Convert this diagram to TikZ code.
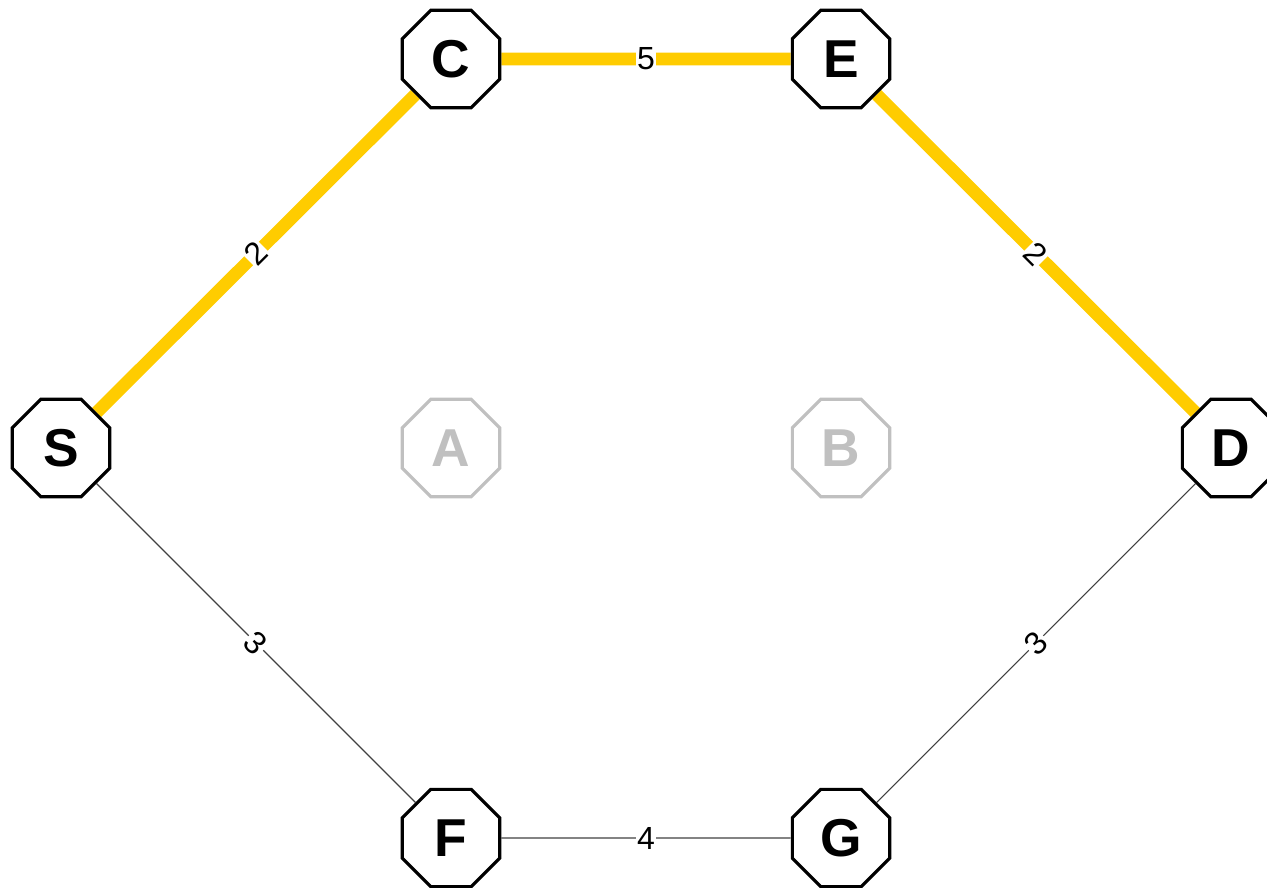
\documentclass[tikz,border=0pt]{standalone}
\usepackage{fontspec}
\setmainfont{Liberation Sans}
\usetikzlibrary{shapes.geometric,backgrounds}

\definecolor{pathyellow}{HTML}{FFCC00}
\definecolor{fadedgray}{HTML}{C0C0C0}

\begin{document}
\begin{tikzpicture}[x=0.75pt,y=-0.75pt,
    vertex/.style={regular polygon, regular polygon sides=8, draw=black, fill=white,
      line width=2.4pt, minimum size=79pt, inner sep=0pt,
      font=\fontsize{40}{40}\selectfont\bfseries},
    faded/.style={vertex, draw=fadedgray, text=fadedgray},
    route/.style={draw=pathyellow, line width=9.5pt},
    plain/.style={draw=black!75, line width=0.8pt},
    weight/.style={midway, sloped, fill=white, inner sep=1pt,
      font=\fontsize{24}{24}\selectfont}]
	\useasboundingbox (0,0) rectangle (1267,888);
	% vertices
	\node [vertex] (S) at (61,448) {S};
	\node [vertex] (C) at (451,59) {C};
	\node [vertex] (E) at (841,59) {E};
	\node [faded] (A) at (451,448) {A};
	\node [faded] (B) at (841,448) {B};
	\node [vertex] (D) at (1231,448) {D};
	\node [vertex] (F) at (451,838) {F};
	\node [vertex] (G) at (841,838) {G};
	% edges go under the vertices
	\begin{scope}[on background layer]
		\draw [route] (S) -- node [weight] {2} (C);
		\draw [route] (C) -- node [weight] {5} (E);
		\draw [route] (E) -- node [weight] {2} (D);
		\draw [plain] (S) -- node [weight] {3} (F);
		\draw [plain] (F) -- node [weight] {4} (G);
		\draw [plain] (D) -- node [weight] {3} (G);
	\end{scope}
\end{tikzpicture}
\end{document}
